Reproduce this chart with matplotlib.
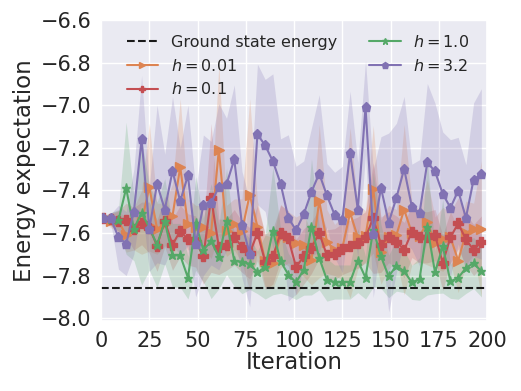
import numpy as np
import matplotlib
matplotlib.use("Agg")
import matplotlib.pyplot as plt
import seaborn as sns

# iterations at which the energy was recorded
iterations = np.arange(1, 200, 4)
ground_state = -7.86

# mean energy per h value
mean_h001 = [-7.53, -7.545, -7.545, -7.61, -7.58, -7.55, -7.385, -7.58, -7.56, -7.52,
             -7.29, -7.56, -7.57, -7.57, -7.6, -7.21, -7.59, -7.56, -7.59, -7.42,
             -7.57, -7.73, -7.74, -7.615, -7.62, -7.645, -7.655, -7.725, -7.45, -7.64,
             -7.68, -7.67, -7.505, -7.62, -7.615, -7.395, -7.69, -7.62, -7.61, -7.49,
             -7.6, -7.615, -7.55, -7.645, -7.63, -7.62, -7.73, -7.6, -7.58, -7.58]
mean_h01 = [-7.53, -7.535, -7.545, -7.54, -7.58, -7.555, -7.575, -7.66, -7.545, -7.655,
            -7.59, -7.63, -7.64, -7.71, -7.435, -7.665, -7.655, -7.62, -7.665, -7.695,
            -7.6, -7.735, -7.71, -7.6, -7.625, -7.76, -7.71, -7.67, -7.6, -7.705,
            -7.7, -7.675, -7.66, -7.645, -7.62, -7.53, -7.655, -7.62, -7.64, -7.68,
            -7.595, -7.62, -7.62, -7.61, -7.74, -7.62, -7.555, -7.63, -7.68, -7.64]
mean_h10 = [-7.53, -7.535, -7.54, -7.39, -7.58, -7.505, -7.575, -7.655, -7.545, -7.705,
            -7.705, -7.81, -7.555, -7.68, -7.638, -7.712, -7.545, -7.73, -7.735, -7.745,
            -7.785, -7.76, -7.59, -7.733, -7.795, -7.832, -7.772, -7.571, -7.717, -7.82,
            -7.83, -7.83, -7.83, -7.73, -7.81, -7.584, -7.71, -7.804, -7.753, -7.78,
            -7.832, -7.816, -7.571, -7.785, -7.662, -7.827, -7.811, -7.764, -7.741, -7.78]
mean_h32 = [-7.53, -7.53, -7.62, -7.65, -7.50, -7.16, -7.58, -7.37, -7.49, -7.31,
            -7.45, -7.33, -7.65, -7.47, -7.46, -7.383, -7.371, -7.255, -7.561, -7.697,
            -7.137, -7.189, -7.263, -7.368, -7.529, -7.587, -7.512, -7.407, -7.321, -7.424,
            -7.515, -7.537, -7.224, -7.49, -7.01, -7.603, -7.388, -7.551, -7.435, -7.299,
            -7.477, -7.506, -7.268, -7.311, -7.416, -7.482, -7.401, -7.529, -7.349, -7.323]

# standard deviation per h value
std_h001 = [0.01, 0.03, 0.05, 0.08, 0.1, 0.15, 0.3, 0.12, 0.1, 0.15,
            0.32, 0.12, 0.1, 0.1, 0.12, 0.4, 0.12, 0.12, 0.15, 0.45,
            0.12, 0.12, 0.12, 0.15, 0.12, 0.12, 0.15, 0.12, 0.36, 0.15,
            0.12, 0.15, 0.4, 0.15, 0.12, 0.3, 0.15, 0.15, 0.12, 0.4,
            0.15, 0.12, 0.2, 0.12, 0.15, 0.12, 0.15, 0.15, 0.12, 0.32]
std_h01 = [0.01, 0.03, 0.05, 0.08, 0.1, 0.1, 0.12, 0.12, 0.12, 0.12,
           0.12, 0.12, 0.12, 0.13, 0.35, 0.13, 0.12, 0.13, 0.12, 0.12,
           0.13, 0.13, 0.13, 0.13, 0.13, 0.13, 0.13, 0.12, 0.12, 0.12,
           0.12, 0.12, 0.12, 0.12, 0.12, 0.26, 0.13, 0.12, 0.12, 0.13,
           0.12, 0.12, 0.12, 0.12, 0.13, 0.12, 0.12, 0.12, 0.12, 0.12]
std_h10 = [0.01, 0.03, 0.05, 0.31, 0.15, 0.34, 0.2, 0.2, 0.2, 0.15,
           0.15, 0.1, 0.22, 0.15, 0.27, 0.15, 0.25, 0.12, 0.15, 0.12,
           0.1, 0.15, 0.3, 0.15, 0.1, 0.08, 0.12, 0.32, 0.15, 0.1,
           0.08, 0.08, 0.08, 0.15, 0.1, 0.27, 0.15, 0.1, 0.12, 0.1,
           0.08, 0.1, 0.32, 0.1, 0.22, 0.08, 0.1, 0.12, 0.12, 0.12]
std_h32 = [0.01, 0.02, 0.15, 0.15, 0.2, 0.3, 0.2, 0.37, 0.26, 0.35,
           0.25, 0.33, 0.25, 0.33, 0.29, 0.39, 0.31, 0.35, 0.25, 0.25,
           0.33, 0.31, 0.41, 0.21, 0.39, 0.3, 0.25, 0.3, 0.37, 0.15,
           0.2, 0.25, 0.29, 0.22, 0.22, 0.3, 0.24, 0.42, 0.35, 0.34,
           0.2, 0.25, 0.37, 0.32, 0.29, 0.32, 0.25, 0.25, 0.36, 0.4]

sns.set_theme(style="darkgrid")
plt.rcParams['font.family'] = ['DejaVu Sans']

palette = sns.color_palette("deep")
series = [
    ("$h=0.01$", mean_h001, std_h001, palette[1], ">"),
    ("$h=0.1$", mean_h01, std_h01, palette[3], "P"),
    ("$h=1.0$", mean_h10, std_h10, palette[2], "*"),
    ("$h=3.2$", mean_h32, std_h32, palette[4], "p"),
]

fig, ax = plt.subplots(figsize=(5.21, 3.91), dpi=100)
fig.subplots_adjust(left=0.194, right=0.935, top=0.949, bottom=0.178)

ax.axhline(ground_state, color="k", ls="--", lw=1.5, label="Ground state energy")
for label, m, s, c, mk in series:
    m = np.array(m)
    s = np.array(s)
    ax.plot(iterations, m, color=c, marker=mk, ms=6.5, lw=1.5, label=label)
    ax.fill_between(iterations, m - s, m + s, color=c, alpha=0.22, lw=0)

ax.set_xlim(0, 200)
ax.set_ylim(-8.015, -6.6)
ax.set_xticks(np.arange(0, 201, 25))
ax.set_yticks(np.arange(-8.0, -6.59, 0.2))
ax.tick_params(labelsize=15, pad=1)
ax.set_xlabel("Iteration", fontsize=16.5, labelpad=0)
ax.set_ylabel("Energy expectation", fontsize=16.5, labelpad=3)
ax.legend(ncol=2, loc="upper center", fontsize=11.5, frameon=False,
          columnspacing=1.95, handlelength=2.0, borderaxespad=0.45,
          markerscale=0.75, bbox_to_anchor=(0.51, 1.0))

fig.savefig("out.png", dpi=100)
